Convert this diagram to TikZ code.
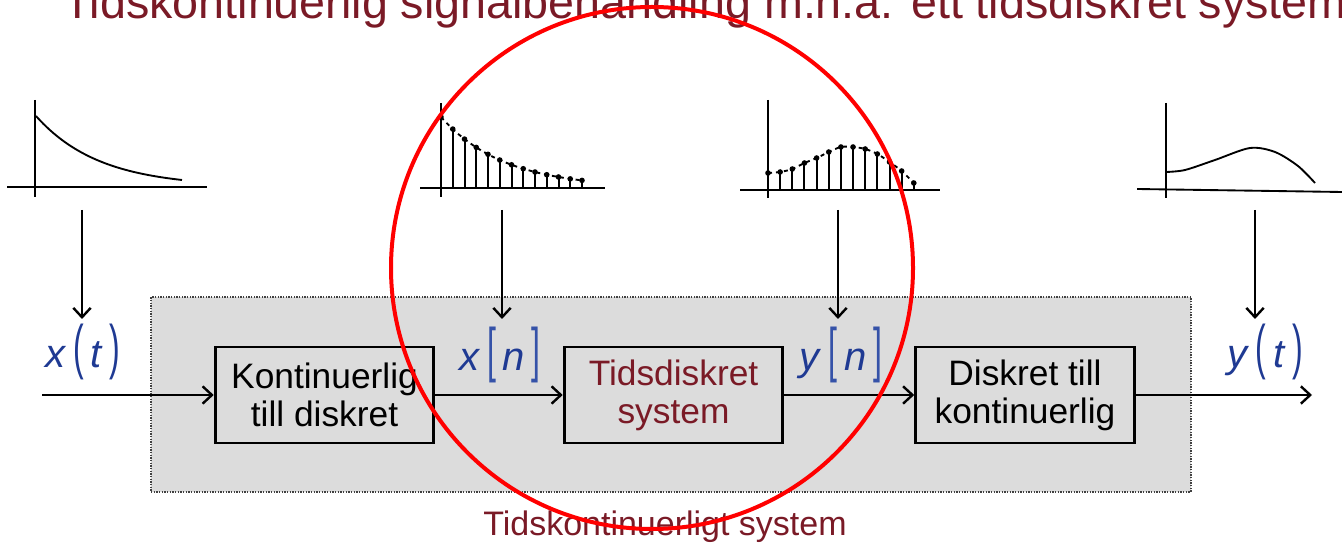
\documentclass[tikz,border=0pt]{standalone}
\usepackage{fontspec}
\setmainfont{Liberation Sans}
\usepackage{graphicx}
\usetikzlibrary{arrows.meta}
\definecolor{TSRed}{HTML}{7A1A26}
\definecolor{TSBlue}{HTML}{1F3A93}
\definecolor{TSBracket}{HTML}{3552A8}
\definecolor{TSGray}{HTML}{DCDCDC}
\definecolor{TSMark}{HTML}{FF0000}
% tall thin delimiters for the signal names
\newcommand{\talldelim}[1]{\scalebox{.8}[1.5]{#1}}
\newcommand{\signame}[4]{\textit{#1}\,\talldelim{#2}\,\textit{#3}\,\talldelim{#4}}

\begin{document}
\begin{tikzpicture}[x=.75pt,y=-.75pt,
    block/.style={draw,line width=2.2pt,fill=TSGray,minimum width=164pt,
      minimum height=72pt,align=center,inner sep=0pt,
      font=\fontsize{26.5}{28.5}\selectfont},
    sig/.style={text=TSBlue,inner sep=0pt,font=\fontsize{30}{30}\selectfont},
    flow/.style={-{Straight Barb[length=7pt,width=13pt,line width=1.8pt]},line width=2pt},
    axis/.style={line width=1.4pt},
    curve/.style={line width=1.4pt},
    stem/.style={line width=1.5pt}
  ]
  \clip (0,0) rectangle (1342,548);

  \node[anchor=base,text=TSRed,inner sep=0pt,font=\fontsize{35}{40}\selectfont]
    (title) at (705,19) {Tidskontinuerlig signalbehandling m.h.a. ett tidsdiskret system};

  % time-continuous frame
  \node[draw=black!75,line width=1.1pt,dash pattern=on 1pt off 1pt,fill=TSGray,
    minimum width=780pt,minimum height=146pt] (ctsys) at (671,394.5) {};
  \node[anchor=base,text=TSRed,inner sep=0pt,font=\fontsize{25.5}{28}\selectfont]
    (ctlabel) at (665,536) {Tidskontinuerligt system};

  % blocks
  \node[block] (c2d) at (324.5,395) {Kontinuerlig\\till diskret};
  \node[block,text=TSRed] (dsys) at (673.5,395) {Tidsdiskret\\system};
  \node[block] (d2c) at (1025,395) {Diskret till\\kontinuerlig};

  \coordinate (in) at (42,395);
  \coordinate (out) at (1312,395);
  \draw[flow] (in) -- (c2d);
  \draw[flow] (c2d) -- (dsys);
  \draw[flow] (dsys) -- (d2c);
  \draw[flow] (d2c) -- (out);

  % signal names
  \node[sig] (xt) at (83,352) {\signame{x}{(}{t}{)}};
  \node[sig] (xn) at (500,355) {\signame{x}{\textcolor{TSBracket}{[}}{n}{\textcolor{TSBracket}{]}}};
  \node[sig] (yn) at (841,355) {\signame{y}{\textcolor{TSBracket}{[}}{n}{\textcolor{TSBracket}{]}}};
  \node[sig] (yt) at (1265,352) {\signame{y}{(}{t}{)}};

  % arrows down from the sketches
  \coordinate (p1) at (82,210);   \coordinate (q1) at (82,319);
  \coordinate (p2) at (502,210);  \coordinate (q2) at (502,319);
  \coordinate (p3) at (838,210);  \coordinate (q3) at (838,319);
  \coordinate (p4) at (1255,210); \coordinate (q4) at (1255,319);
  \draw[flow] (p1) -- (q1);
  \draw[flow] (p2) -- (q2);
  \draw[flow] (p3) -- (q3);
  \draw[flow] (p4) -- (q4);

  % x(t)
  \draw[axis] (35,100) -- (35,197);
  \draw[axis] (7,187) -- (207,187);
  \draw[curve] plot[domain=0:146,samples=60] ({36+\x},{187-71*exp(-0.01586*\x)});

  % x[n]
  \draw[axis] (441,103) -- (441,197);
  \draw[axis] (420,188) -- (605,188);
  \draw[curve,dashed] plot[domain=0:141,samples=40] ({441+\x},{188-71*exp(-0.01586*\x)});
  \foreach \n in {0,...,12}{
    \draw[stem] ({441+11.75*\n},188) -- ({441+11.75*\n},{188-71*0.83^\n});
    \fill ({441+11.75*\n},{188-71*0.83^\n}) circle[radius=2.8];
  }

  % y[n]
  \draw[axis] (768,100) -- (768,198);
  \draw[axis] (740,190) -- (940,190);
  \draw[curve,dashed] plot[smooth] coordinates {(768,173) (780.15,172) (792.3,169)
    (804.45,163) (816.6,158) (828.75,152) (840.9,147) (853.05,147) (865.2,149)
    (877.35,154) (889.5,162) (901.65,171) (913.8,183)};
  \foreach \h [count=\i from 0] in {17,18,21,27,32,38,43,43,41,36,28,19,7}{
    \draw[stem] ({768+12.15*\i},190) -- ({768+12.15*\i},{190-\h});
    \fill ({768+12.15*\i},{190-\h}) circle[radius=2.8];
  }

  % y(t)
  \draw[axis] (1166,103) -- (1166,198);
  \draw[axis] (1137,189) -- (1342,192);
  \draw[curve] plot[smooth] coordinates {(1166,172) (1185,170) (1215,160)
    (1250,148) (1275,152) (1298,166) (1315,183)};

  % highlight ring
  \draw[TSMark,line width=3pt] (652,268) circle[radius=261];
\end{tikzpicture}
\end{document}
